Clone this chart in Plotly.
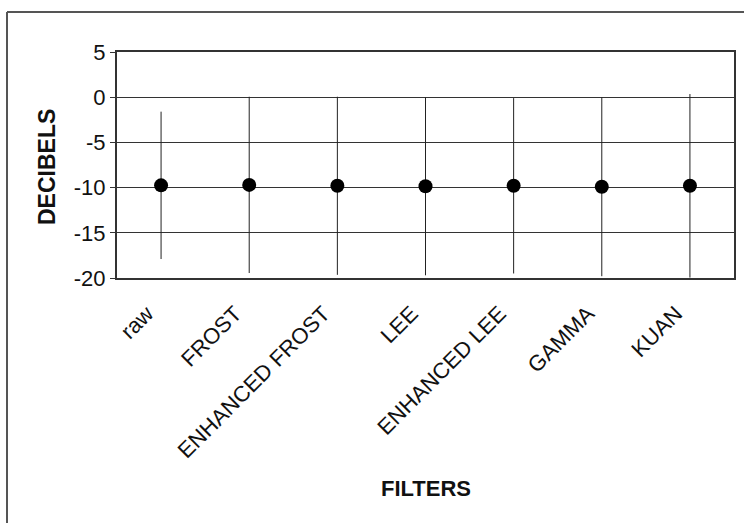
import plotly.graph_objects as go

# Mean speckle level per filter and the spread shown as vertical bars
filters = ["raw", "FROST", "ENHANCED FROST", "LEE", "ENHANCED LEE", "GAMMA", "KUAN"]
mean_db = [-9.75, -9.7, -9.8, -9.85, -9.8, -9.9, -9.8]
spread_db = [8.15, 9.75, 9.85, 9.85, 9.7, 9.9, 10.15]

y_ticks = [5, 0, -5, -10, -15, -20]
y_tick_text = ["5", "0", "-5", "-10", "-15", "-20"]

W, H = 744, 523
ML, MR, MT, MB = 117, 10, 52, 245
PW, PH = W - ML - MR, H - MT - MB

FONT = "Liberation Sans, Arial, sans-serif"
INK = "#222222"
TEXT = "#111111"


def px_x(x):
    return (x - ML) / PW


def px_y(y):
    return (H - MB - y) / PH


fig = go.Figure()
fig.add_trace(go.Scatter(
    x=filters,
    y=mean_db,
    mode="markers",
    marker=dict(size=14, color="#000000"),
    error_y=dict(type="data", array=spread_db, symmetric=True,
                 color=INK, thickness=1, width=0),
    showlegend=False,
    hoverinfo="skip",
))

fig.update_layout(
    width=W, height=H,
    margin=dict(l=ML, r=MR, t=MT, b=MB, pad=0),
    paper_bgcolor="white",
    plot_bgcolor="white",
    font=dict(family=FONT, color=TEXT),
    xaxis=dict(
        type="category",
        range=[-0.5, len(filters) - 0.5],
        showgrid=False,
        showline=True, linecolor="#333333", linewidth=2, mirror=True,
        ticks="",
        tickangle=-45,
        ticklabelshift=-14,
        ticklabelstandoff=12,
        tickfont=dict(size=22, family=FONT, color=TEXT),
        automargin=False,
        zeroline=False,
    ),
    yaxis=dict(
        range=[-20, 5],
        tickvals=y_ticks,
        ticktext=y_tick_text,
        showgrid=True, gridcolor="#333333", gridwidth=1,
        showline=True, linecolor="#333333", linewidth=2, mirror=True,
        ticks="outside", ticklen=5, tickcolor="#333333", tickwidth=1,
        tickfont=dict(size=22, family=FONT, color=TEXT),
        automargin=False,
        zeroline=False,
    ),
    annotations=[
        dict(text="<b>DECIBELS</b>", xref="paper", yref="paper",
             x=px_x(47), y=px_y(167), textangle=-90, showarrow=False,
             xanchor="center", yanchor="middle",
             font=dict(size=23, family=FONT, color=TEXT)),
        dict(text="<b>FILTERS</b>", xref="paper", yref="paper",
             x=0.5, y=px_y(488), showarrow=False,
             xanchor="center", yanchor="middle",
             font=dict(size=22, family=FONT, color=TEXT)),
    ],
    shapes=[
        # outer frame: top edge and left edge
        dict(type="line", xref="paper", yref="paper",
             x0=px_x(7), x1=px_x(746), y0=px_y(12), y1=px_y(12),
             line=dict(color="#555555", width=2)),
        dict(type="line", xref="paper", yref="paper",
             x0=px_x(7), x1=px_x(7), y0=px_y(12), y1=px_y(525),
             line=dict(color="#555555", width=2)),
    ],
)

fig.write_html("out.html")
